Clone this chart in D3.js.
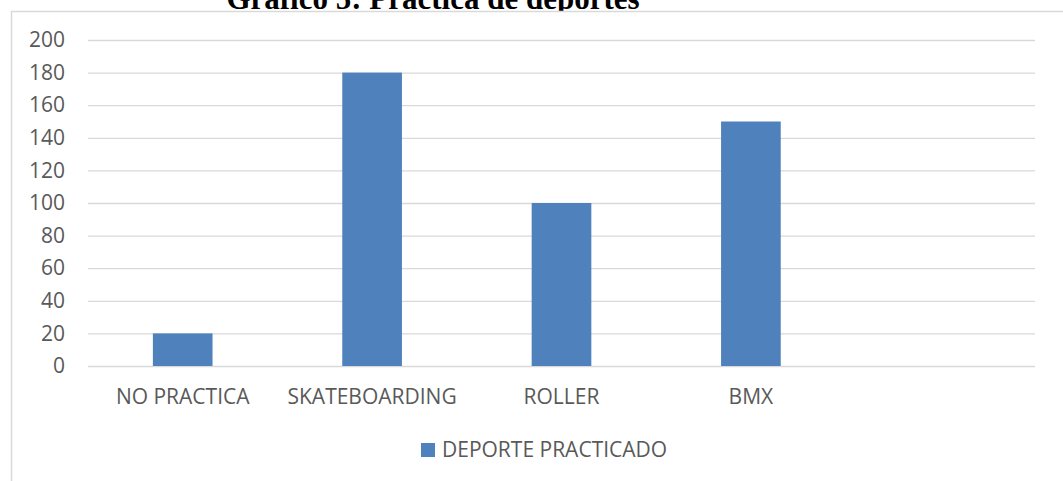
<!DOCTYPE html>
<html>
<head>
<meta charset="utf-8">
<script src="https://cdn.jsdelivr.net/npm/d3@7"></script>
<style>
    body { margin: 0; background: #fff; }
    svg { display: block; }
</style>
</head>
<body>
<div id="chart"></div>
<script>
//Chart data
const categories = ["NO PRACTICA", "SKATEBOARDING", "ROLLER", "BMX", ""];
const values = [20, 180, 100, 150, null];
const yTicks = [0, 20, 40, 60, 80, 100, 120, 140, 160, 180, 200];
const seriesName = "DEPORTE PRACTICADO";
const titleText = "Gráfico 5: Práctica de deportes";

//Define constants
const width = 1063;
const height = 481;
const plot = { left: 88, right: 1035, top: 40, bottom: 366 };
const barColour = "#4f81bd";
const gridColour = "#d9d9d9";
const textColour = "#595959";
const labelFont = "'Open Sans', 'Noto Sans', sans-serif";

const svg = d3.select("#chart")
    .append("svg")
    .attr("width", width)
    .attr("height", height);

//title sits behind the chart box, its lower part is hidden
svg.append("text")
    .attr("x", 433)
    .attr("y", 9)
    .attr("text-anchor", "middle")
    .style("font-family", "'Liberation Serif', 'Times New Roman', serif")
    .style("font-weight", "bold")
    .style("font-size", "31px")
    .style("fill", "#000")
    .text(titleText);

//chart area box
svg.append("rect")
    .attr("x", 11.5)
    .attr("y", 11.5)
    .attr("width", 1100)
    .attr("height", 520)
    .style("fill", "#fff")
    .style("stroke", gridColour)
    .style("stroke-width", 1.5);

const x = d3.scaleBand()
    .domain(categories)
    .range([plot.left, plot.right])
    .padding(0);

const y = d3.scaleLinear()
    .domain([0, 200])
    .range([plot.bottom, plot.top]);

//y axis with gridlines
const yAxis = d3.axisLeft(y)
    .tickValues(yTicks)
    .tickSize(-(plot.right - plot.left))
    .tickPadding(23);

const yg = svg.append("g")
    .attr("transform", `translate(${plot.left},0)`)
    .call(yAxis);

yg.select(".domain").remove();
yg.selectAll(".tick line")
    .style("stroke", gridColour)
    .style("stroke-width", 1.3);
yg.selectAll(".tick text")
    .style("font-family", labelFont)
    .style("font-size", "21px")
    .style("fill", textColour);

//bars
const barWidth = x.bandwidth() * 0.315;
const barData = categories.map((c, i) => ({ name: c, value: values[i] }))
    .filter(d => d.value != null);

svg.selectAll(".bar")
    .data(barData)
    .enter().append("rect")
    .attr("class", "bar")
    .attr("x", d => x(d.name) + (x.bandwidth() - barWidth) / 2)
    .attr("y", d => y(d.value))
    .attr("width", barWidth)
    .attr("height", d => y(0) - y(d.value))
    .style("fill", barColour);

//category labels
svg.selectAll(".cat")
    .data(categories.filter(c => c !== ""))
    .enter().append("text")
    .attr("class", "cat")
    .attr("x", d => x(d) + x.bandwidth() / 2)
    .attr("y", plot.bottom + 38)
    .attr("text-anchor", "middle")
    .style("font-family", labelFont)
    .style("font-size", "21px")
    .style("fill", textColour)
    .text(d => d);

//legend
const legend = svg.append("g")
    .attr("transform", "translate(421,443)");

legend.append("rect")
    .attr("width", 14)
    .attr("height", 14)
    .style("fill", barColour);

legend.append("text")
    .attr("x", 21)
    .attr("y", 14)
    .style("font-family", labelFont)
    .style("font-size", "21px")
    .style("fill", textColour)
    .text(seriesName);
</script>
</body>
</html>
